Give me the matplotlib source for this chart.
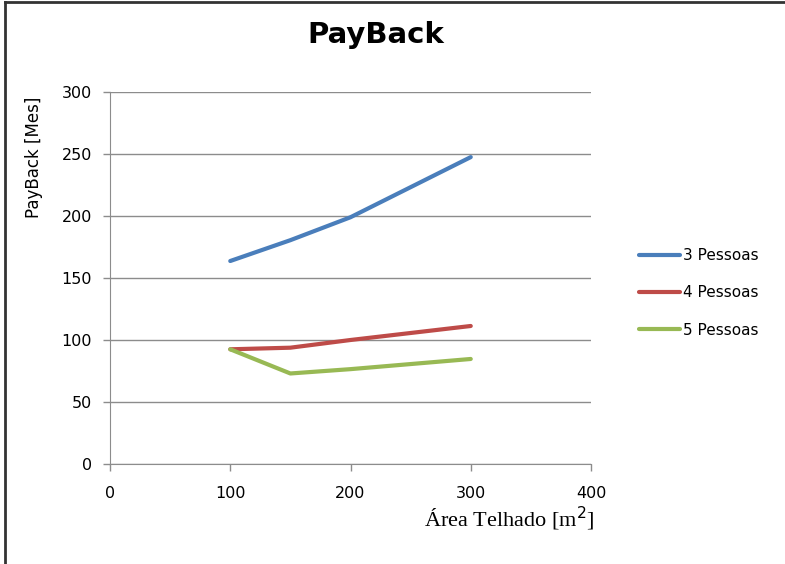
import matplotlib
matplotlib.use("Agg")
import matplotlib.pyplot as plt
from matplotlib.lines import Line2D

area = [100, 150, 200, 300]
p3 = [163.7, 180.5, 199.0, 247.5]
p4 = [92.5, 93.8, 100.0, 111.3]
p5 = [92.5, 73.0, 76.5, 84.7]
series = [("3 Pessoas", p3, "#4a7ebb"), ("4 Pessoas", p4, "#be4b48"), ("5 Pessoas", p5, "#98b954")]
xticks = [0, 100, 200, 300, 400]
yticks = [0, 50, 100, 150, 200, 250, 300]

W, H = 785, 564
fig = plt.figure(figsize=(W/100, H/100), dpi=100)
ax = fig.add_axes([110/W, 1-464/H, (591-110)/W, (464-92)/H])

for name, vals, c in series:
    ax.plot(area, vals, color=c, lw=3.0, label=name, solid_capstyle="round")

ax.set_xlim(0, 400)
ax.set_ylim(0, 300)
ax.set_xticks(xticks)
ax.set_yticks(yticks)
ax.grid(axis="y", color="#8c8c8c", lw=1)
ax.set_axisbelow(True)
for s in ["top", "right"]:
    ax.spines[s].set_visible(False)
for s in ["left", "bottom"]:
    ax.spines[s].set_color("#8c8c8c")
ax.tick_params(colors="#8c8c8c", length=5, width=1, labelcolor="black", labelsize=11.5)
ax.tick_params(axis="y", pad=8)
ax.tick_params(axis="x", pad=11)
for lab in ax.get_xticklabels() + ax.get_yticklabels():
    lab.set_fontfamily("DejaVu Sans")

ax.set_xlabel("Área Telhado [m$^2$]", fontfamily="Liberation Serif", fontsize=16)
ax.xaxis.set_label_coords((509-110)/(591-110), -(519-464)/(464-92))
ax.xaxis.label.set_va("center")
ax.set_ylabel("PayBack [Mes]", fontfamily="DejaVu Sans", fontsize=12)
ax.yaxis.set_label_coords((43-110)/(591-110), (464-157)/(464-92))

fig.text(376/W, 1-35/H, "PayBack", ha="center", va="center", fontsize=21,
         fontweight="bold", fontfamily="DejaVu Sans")

leg = ax.legend(loc="center left", bbox_to_anchor=(625/W, 1-293/H), bbox_transform=fig.transFigure,
                frameon=False, handlelength=2.7, handletextpad=0.2, labelspacing=1.45,
                prop={"family": "DejaVu Sans", "size": 11})

fig.add_artist(Line2D([5/W, 5/W], [0, 1-2/H], transform=fig.transFigure, color="#333333", lw=2))
fig.add_artist(Line2D([5/W, 1], [1-2/H, 1-2/H], transform=fig.transFigure, color="#333333", lw=2))

fig.savefig("out.png", dpi=100)
